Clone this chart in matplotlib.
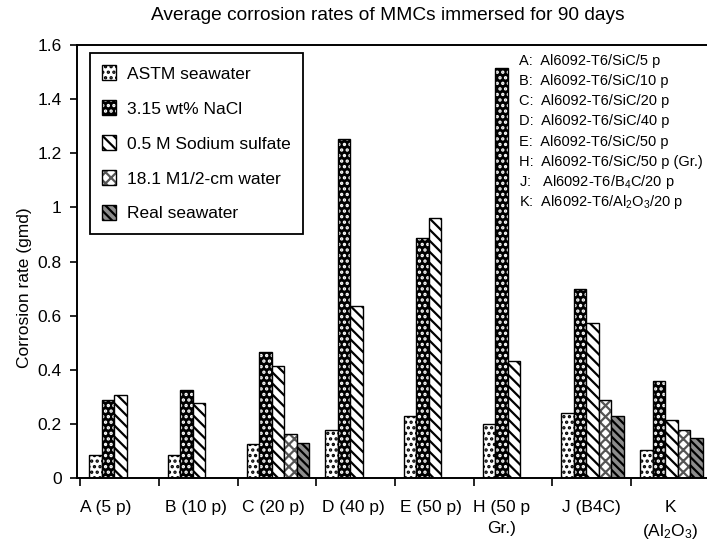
import numpy as np
import matplotlib
matplotlib.use('Agg')
import matplotlib.pyplot as plt
from matplotlib.patches import Patch
from matplotlib.legend_handler import HandlerTuple

plt.rcParams['font.family'] = ['Liberation Sans', 'DejaVu Sans']
plt.rcParams['mathtext.fontset'] = 'custom'
plt.rcParams['mathtext.rm'] = 'Liberation Sans'
plt.rcParams['mathtext.default'] = 'regular'
plt.rcParams['hatch.linewidth'] = 1.6

# corrosion rates (gmd) per material, None = not tested
groups = ['A (5 p)', 'B (10 p)', 'C (20 p)', 'D (40 p)', 'E (50 p)',
          'H (50 p\nGr.)', 'J (B4C)', 'K\n(Al$_2$O$_3$)']
astm = [0.086, 0.086, 0.127, 0.176, 0.231, 0.198, 0.240, 0.105]
nacl = [0.290, 0.326, 0.465, 1.252, 0.888, 1.515, 0.700, 0.360]
sulfate = [0.308, 0.278, 0.413, 0.637, 0.961, 0.434, 0.572, 0.215]
water = [None, None, 0.164, None, None, None, 0.287, 0.179]
real_sea = [None, None, 0.131, None, None, None, 0.228, 0.149]

series = ['ASTM seawater', '3.15 wt% NaCl', '0.5 M Sodium sulfate',
          '18.1 M1/2-cm water', 'Real seawater']
values = [astm, nacl, sulfate, water, real_sea]

alloys = ['A:  Al6092-T6/SiC/5 p', 'B:  Al6092-T6/SiC/10 p',
          'C:  Al6092-T6/SiC/20 p', 'D:  Al6092-T6/SiC/40 p',
          'E:  Al6092-T6/SiC/50 p', 'H:  Al6092-T6/SiC/50 p (Gr.)',
          'J:   Al6092-T6/B$_4$C/20 p', 'K:  Al6092-T6/Al$_2$O$_3$/20 p']

# (face colour, hatch colour, hatch)
styles = [('white', 'black', '...'),
          ('black', 'white', '...'),
          ('white', 'black', '\\\\\\'),
          ('white', '#555555', 'xxx'),
          ('#8c8c8c', 'black', '\\\\\\\\')]

# where each group name sits inside its slot
label_shift = [0.33, 0.47, 0.46, 0.47, 0.46, 0.35, 0.49, 0.5]

fig = plt.figure(figsize=(7.07, 5.55), dpi=100)
ax = fig.add_axes([0.109, 0.1387, 0.891, 0.7802])

width = 0.159
offset = 0.114
handles = []
for j, (vals, (fc, hc, hatch)) in enumerate(zip(values, styles)):
    xs = [i + offset + (j + 0.5) * width for i, v in enumerate(vals) if v is not None]
    hs = [v for v in vals if v is not None]
    ax.bar(xs, hs, width, facecolor=fc, edgecolor=hc, hatch=hatch, linewidth=0)
    ax.bar(xs, hs, width, fill=False, edgecolor='black', linewidth=1.0)
    handles.append((Patch(facecolor=fc, edgecolor=hc, hatch=hatch, linewidth=0),
                    Patch(fill=False, edgecolor='black', linewidth=1.0)))

ax.set_xlim(-0.04, 7.965)
ax.set_ylim(0, 1.6)
ax.set_yticks(np.arange(0, 1.61, 0.2))
ax.set_yticklabels(['0', '0.2', '0.4', '0.6', '0.8', '1', '1.2', '1.4', '1.6'])
ax.set_xticks(np.arange(len(groups)))
ax.set_xticklabels([])
ax.set_xticks(np.arange(len(groups)) + np.array(label_shift), minor=True)
ax.set_xticklabels(groups, minor=True, va='top', ha='center', linespacing=1.5)
ax.tick_params(axis='x', which='minor', length=0, pad=16, labelsize=12.5)
ax.tick_params(axis='x', which='major', direction='out', length=6, width=1.2)
ax.tick_params(axis='y', direction='out', length=5, width=1.2, pad=6, labelsize=12.5)
ax.spines['right'].set_visible(False)
for s in ['left', 'top', 'bottom']:
    ax.spines[s].set_linewidth(1.4)

ax.set_ylabel('Corrosion rate (gmd)', fontsize=12.5)
ax.yaxis.set_label_coords(-0.071, 0.44)
fig.text(0.549, 0.972, 'Average corrosion rates of MMCs immersed for 90 days',
         ha='center', va='center', fontsize=13.8)

leg = ax.legend(handles, series, handler_map={tuple: HandlerTuple(ndivide=1, pad=0)},
                loc='upper left', bbox_to_anchor=(0.021, 0.982), borderaxespad=0,
                fontsize=12.5, fancybox=False, edgecolor='black', framealpha=1,
                handlelength=0.8, handleheight=1.0, handletextpad=0.6,
                labelspacing=1.05, borderpad=0.7)
leg.get_frame().set_linewidth(1.3)

for k, line in enumerate(alloys):
    ax.text(0.7016, 0.963 - k * 0.0465, line, transform=ax.transAxes,
            ha='left', va='center', fontsize=10.5)

fig.savefig('out.png', dpi=100)
